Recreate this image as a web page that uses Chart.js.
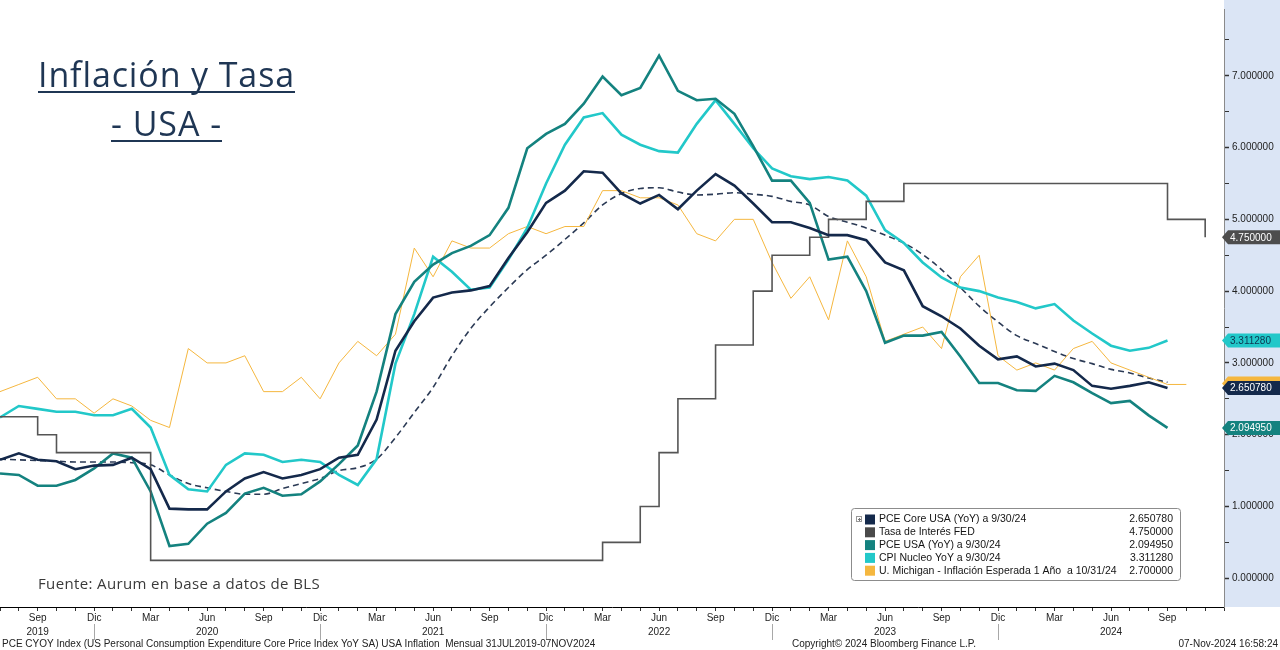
<!DOCTYPE html>
<html>
<head>
<meta charset="utf-8">
<script src="https://cdn.jsdelivr.net/npm/chart.js@4.4.1/dist/chart.umd.min.js"></script>
<style>
  html, body { margin: 0; padding: 0; background: #fff; }
  #wrap { width: 1280px; height: 650px; }
</style>
</head>
<body>
<div id="wrap"><canvas id="chart" width="1280" height="650"></canvas></div>
<script>
// meses (Jul 2019 - Dic 2024)
const months = [
  'Jul 2019','Ago 2019','Sep 2019','Oct 2019','Nov 2019','Dic 2019',
  'Ene 2020','Feb 2020','Mar 2020','Abr 2020','May 2020','Jun 2020','Jul 2020','Ago 2020','Sep 2020','Oct 2020','Nov 2020','Dic 2020',
  'Ene 2021','Feb 2021','Mar 2021','Abr 2021','May 2021','Jun 2021','Jul 2021','Ago 2021','Sep 2021','Oct 2021','Nov 2021','Dic 2021',
  'Ene 2022','Feb 2022','Mar 2022','Abr 2022','May 2022','Jun 2022','Jul 2022','Ago 2022','Sep 2022','Oct 2022','Nov 2022','Dic 2022',
  'Ene 2023','Feb 2023','Mar 2023','Abr 2023','May 2023','Jun 2023','Jul 2023','Ago 2023','Sep 2023','Oct 2023','Nov 2023','Dic 2023',
  'Ene 2024','Feb 2024','Mar 2024','Abr 2024','May 2024','Jun 2024','Jul 2024','Ago 2024','Sep 2024','Oct 2024','Nov 2024','Dic 2024'
];
const quarterMonths = ['Mar', 'Jun', 'Sep', 'Dic'];
const yearLabelAt = ['Sep 2019', 'Jun 2020', 'Jun 2021', 'Jun 2022', 'Jun 2023', 'Jun 2024'];
const yTicks = [0, 0.5, 1, 1.5, 2, 2.5, 3, 3.5, 4, 4.5, 5, 5.5, 6, 6.5, 7, 7.5];

const pceCore = [
  1.65, 1.74, 1.65, 1.63, 1.52, 1.57,
  1.58, 1.68, 1.52, 0.97, 0.96, 0.96, 1.21, 1.39, 1.48, 1.39, 1.44, 1.52,
  1.68, 1.72, 2.21, 3.17, 3.58, 3.91, 3.98, 4.01, 4.07, 4.46, 4.82, 5.23,
  5.40, 5.67, 5.65, 5.36, 5.22, 5.34, 5.14, 5.40, 5.63, 5.47, 5.22, 4.96,
  4.96, 4.88, 4.78, 4.78, 4.71, 4.40, 4.29, 3.79, 3.65, 3.48, 3.24, 3.05,
  3.09, 2.95, 2.99, 2.90, 2.68, 2.64, 2.68, 2.73, 2.65078
];
const fedRate = [
  2.25, 2.25, 2.00, 1.75, 1.75, 1.75,
  1.75, 1.75, 0.25, 0.25, 0.25, 0.25, 0.25, 0.25, 0.25, 0.25, 0.25, 0.25,
  0.25, 0.25, 0.25, 0.25, 0.25, 0.25, 0.25, 0.25, 0.25, 0.25, 0.25, 0.25,
  0.25, 0.25, 0.50, 0.50, 1.00, 1.75, 2.50, 2.50, 3.25, 3.25, 4.00, 4.50,
  4.50, 4.75, 5.00, 5.00, 5.25, 5.25, 5.50, 5.50, 5.50, 5.50, 5.50, 5.50,
  5.50, 5.50, 5.50, 5.50, 5.50, 5.50, 5.50, 5.50, 5.00, 5.00, 4.75
];
const pce = [
  1.46, 1.44, 1.29, 1.29, 1.37, 1.53,
  1.74, 1.68, 1.21, 0.45, 0.48, 0.76, 0.91, 1.18, 1.26, 1.15, 1.17, 1.35,
  1.59, 1.85, 2.60, 3.68, 4.13, 4.37, 4.53, 4.63, 4.78, 5.16, 5.99, 6.19,
  6.33, 6.61, 6.99, 6.73, 6.83, 7.28, 6.79, 6.66, 6.68, 6.47, 6.02, 5.54,
  5.54, 5.23, 4.44, 4.48, 4.00, 3.28, 3.38, 3.38, 3.43, 3.09, 2.72, 2.72,
  2.62, 2.61, 2.82, 2.73, 2.58, 2.44, 2.47, 2.27, 2.09495
];
const cpiCore = [
  2.24, 2.40, 2.36, 2.32, 2.32, 2.27,
  2.27, 2.36, 2.10, 1.44, 1.24, 1.21, 1.58, 1.74, 1.72, 1.62, 1.65, 1.62,
  1.44, 1.30, 1.66, 2.99, 3.68, 4.48, 4.27, 4.02, 4.05, 4.44, 4.88, 5.50,
  6.04, 6.42, 6.48, 6.18, 6.04, 5.95, 5.93, 6.33, 6.66, 6.33, 5.99, 5.71,
  5.60, 5.56, 5.59, 5.54, 5.33, 4.85, 4.67, 4.40, 4.19, 4.05, 4.00, 3.91,
  3.85, 3.76, 3.82, 3.59, 3.41, 3.24, 3.17, 3.21, 3.31128
];
const michigan = [
  2.6, 2.7, 2.8, 2.5, 2.5, 2.3,
  2.5, 2.4, 2.2, 2.1, 3.2, 3.0, 3.0, 3.1, 2.6, 2.6, 2.8, 2.5,
  3.0, 3.3, 3.1, 3.4, 4.6, 4.2, 4.7, 4.6, 4.6, 4.8, 4.9, 4.8,
  4.9, 4.9, 5.4, 5.4, 5.3, 5.3, 5.2, 4.8, 4.7, 5.0, 5.0, 4.4,
  3.9, 4.2, 3.6, 4.7, 4.2, 3.3, 3.4, 3.5, 3.2, 4.2, 4.5, 3.1,
  2.9, 3.0, 2.9, 3.2, 3.3, 3.0, 2.9, 2.8, 2.7, 2.7
];
// tendencia suavizada (linea punteada)
const trend = [
  1.66, 1.65, 1.64, 1.63, 1.62, 1.62,
  1.62, 1.61, 1.58, 1.44, 1.32, 1.26, 1.21, 1.17, 1.17, 1.25, 1.32, 1.39,
  1.50, 1.54, 1.66, 1.96, 2.31, 2.66, 3.10, 3.48, 3.78, 4.05, 4.30, 4.50,
  4.72, 4.95, 5.20, 5.36, 5.43, 5.44, 5.38, 5.34, 5.35, 5.37, 5.35, 5.32,
  5.25, 5.20, 5.04, 4.96, 4.88, 4.78, 4.67, 4.51, 4.30, 4.05, 3.79, 3.57,
  3.38, 3.27, 3.16, 3.06, 2.99, 2.91, 2.86, 2.79, 2.73
];

const NAVY = '#14294b', GRAY = '#555555', TEAL = '#14827f', CYAN = '#22c8c9', GOLD = '#f5b73f';

const datasets = [
  { label: 'PCE Core USA (YoY) a 9/30/24', data: pceCore, borderColor: NAVY, borderWidth: 2.6 },
  { label: 'Tasa de Interés FED', data: fedRate, borderColor: GRAY, borderWidth: 1.6, stepped: true },
  { label: 'PCE USA (YoY) a 9/30/24', data: pce, borderColor: TEAL, borderWidth: 2.6 },
  { label: 'CPI Nucleo YoY a 9/30/24', data: cpiCore, borderColor: CYAN, borderWidth: 2.6 },
  { label: 'U. Michigan - Inflación Esperada 1 Año  a 10/31/24', data: michigan, borderColor: GOLD, borderWidth: 1 },
  { label: 'tendencia', data: trend, borderColor: '#2b3a55', borderWidth: 1.6, borderDash: [6, 4],
    cubicInterpolationMode: 'monotone', tension: 0.4, hideInLegend: true }
];
datasets.forEach(d => { d.pointRadius = 0; d.fill = false; if (d.tension === undefined) d.tension = 0; });

const legendSwatch = [NAVY, '#4a4a4a', TEAL, CYAN, GOLD];
const lastVal = d => d.data[d.data.length - 1];

function spacedText(ctx, text, x, y, width) {
  ctx.letterSpacing = '0px';
  const w = ctx.measureText(text).width;
  const sp = (width - w) / text.length;
  ctx.letterSpacing = sp + 'px';
  ctx.fillText(text, x, y);
  ctx.letterSpacing = '0px';
}

const backdrop = {
  id: 'backdrop',
  beforeDraw(chart) {
    const { ctx, chartArea } = chart;
    ctx.save();
    ctx.fillStyle = '#ffffff';
    ctx.fillRect(0, 0, chart.width, chart.height);
    ctx.fillStyle = '#dbe5f5';
    ctx.fillRect(chartArea.right, 0, chart.width - chartArea.right, chartArea.bottom);
    ctx.restore();
  }
};

function badge(ctx, x0, y, w, bg, fg, text) {
  ctx.beginPath();
  ctx.moveTo(x0, y);
  ctx.lineTo(x0 + 6, y - 7);
  ctx.lineTo(x0 + w, y - 7);
  ctx.lineTo(x0 + w, y + 7);
  ctx.lineTo(x0 + 6, y + 7);
  ctx.closePath();
  ctx.fillStyle = bg;
  ctx.fill();
  ctx.fillStyle = fg;
  ctx.textAlign = 'left';
  ctx.textBaseline = 'middle';
  ctx.fillText(text, x0 + 8, y + 0.5);
}

const decor = {
  id: 'decor',
  afterDraw(chart) {
    const { ctx, chartArea, scales } = chart;
    ctx.save();

    // titulo
    ctx.fillStyle = '#1f3654';
    ctx.font = '34px "Open Sans"';
    ctx.textBaseline = 'alphabetic';
    spacedText(ctx, 'Inflación y Tasa', 38, 87, 257);
    ctx.fillRect(38, 91, 257, 2);
    spacedText(ctx, '- USA -', 111, 136, 111);
    ctx.fillRect(111, 140, 111, 2);

    // fuente
    ctx.fillStyle = '#3a3a3a';
    ctx.font = '15px "Open Sans"';
    spacedText(ctx, 'Fuente: Aurum en base a datos de BLS', 38, 589, 282);

    // separadores de año
    ctx.strokeStyle = '#a8a8a8';
    ctx.lineWidth = 1;
    months.forEach((m, i) => {
      if (m.startsWith('Dic') && i < months.length - 1) {
        const x = Math.round(scales.x.getPixelForValue(i)) + 0.5;
        ctx.beginPath();
        ctx.moveTo(x, 624);
        ctx.lineTo(x, 640);
        ctx.stroke();
      }
    });

    // pie
    ctx.fillStyle = '#222';
    ctx.font = '10px "Liberation Sans"';
    ctx.textBaseline = 'alphabetic';
    ctx.textAlign = 'left';
    ctx.fillText('PCE CYOY Index (US Personal Consumption Expenditure Core Price Index YoY SA) USA Inflation  Mensual 31JUL2019-07NOV2024', 2, 647);
    ctx.fillText('Copyright\u00A9 2024 Bloomberg Finance L.P.', 792, 647);
    ctx.textAlign = 'right';
    ctx.fillText('07-Nov-2024 16:58:24', 1278, 647);

    // leyenda
    const lx = 851, ly = 508, lw = 329, lh = 72;
    ctx.fillStyle = '#ffffff';
    ctx.strokeStyle = '#8c8c8c';
    ctx.lineWidth = 1;
    ctx.beginPath();
    ctx.roundRect(lx + 0.5, ly + 0.5, lw, lh, 3);
    ctx.fill();
    ctx.stroke();
    ctx.strokeStyle = '#999';
    ctx.strokeRect(856.5, 516.5, 5, 5);
    ctx.fillStyle = '#777';
    ctx.fillRect(858, 519, 3, 1);
    ctx.fillRect(859, 518, 1, 3);
    ctx.font = '10.5px "Liberation Sans"';
    ctx.textBaseline = 'middle';
    datasets.filter(d => !d.hideInLegend).forEach((d, i) => {
      const y = ly + 11.5 + i * 12.8;
      ctx.fillStyle = legendSwatch[i];
      ctx.fillRect(865, y - 5, 10, 10);
      ctx.fillStyle = '#141414';
      ctx.textAlign = 'left';
      ctx.fillText(d.label, 879, y);
      ctx.textAlign = 'right';
      ctx.fillText(lastVal(d).toFixed(6), 1173, y);
    });

    // etiquetas de ultimo valor
    ctx.font = '10px "Liberation Sans"';
    const x0 = chartArea.right - 2;
    const yv = v => scales.y.getPixelForValue(v);
    badge(ctx, x0, yv(lastVal(datasets[1])), 60, '#4d4d4d', '#ffffff', lastVal(datasets[1]).toFixed(6));
    badge(ctx, x0, yv(lastVal(datasets[3])), 60, CYAN, '#0d3550', lastVal(datasets[3]).toFixed(6));
    badge(ctx, x0, yv(lastVal(datasets[4])) - 1, 60, GOLD, '#14294b', '');
    badge(ctx, x0, yv(lastVal(datasets[0])), 60, NAVY, '#ffffff', lastVal(datasets[0]).toFixed(6));
    badge(ctx, x0, yv(lastVal(datasets[2])), 60, TEAL, '#ffffff', lastVal(datasets[2]).toFixed(6));

    ctx.restore();
  }
};

new Chart(document.getElementById('chart'), {
  type: 'line',
  data: { labels: months, datasets: datasets },
  options: {
    responsive: false,
    animation: false,
    layout: { padding: { left: 0, right: 0, top: 0, bottom: 10 } },
    plugins: { legend: { display: false }, tooltip: { enabled: false } },
    scales: {
      x: {
        type: 'category',
        offset: false,
        afterFit: s => { s.height = 33; },
        grid: { drawOnChartArea: false, tickLength: 4, color: '#333' },
        border: { color: '#000', width: 1 },
        ticks: {
          autoSkip: false, maxRotation: 0, minRotation: 0, padding: 0,
          color: '#222', font: { family: 'Liberation Sans', size: 10, lineHeight: 1.4 },
          callback: function (value) {
            const lab = months[value];
            const m = lab.slice(0, 3);
            if (!quarterMonths.includes(m) || value === months.length - 1) return '';
            if (yearLabelAt.includes(lab)) return [m, lab.slice(4)];
            return m;
          }
        }
      },
      y: {
        position: 'right',
        min: -0.4,
        max: 7.93,
        afterBuildTicks: s => { s.ticks = yTicks.map(v => ({ value: v })); },
        afterFit: s => { s.width = 56; },
        grid: {
          drawOnChartArea: false, tickLength: 5, color: '#333',
          tickWidth: c => (Number.isInteger(c.tick.value) ? 1.5 : 1)
        },
        border: { color: '#8a8a8a', width: 1 },
        ticks: {
          padding: 3, color: '#222',
          font: { family: 'Liberation Sans', size: 10 },
          callback: v => (Number.isInteger(v) ? v.toFixed(6) : '')
        }
      }
    }
  },
  plugins: [backdrop, decor]
});
</script>
</body>
</html>
